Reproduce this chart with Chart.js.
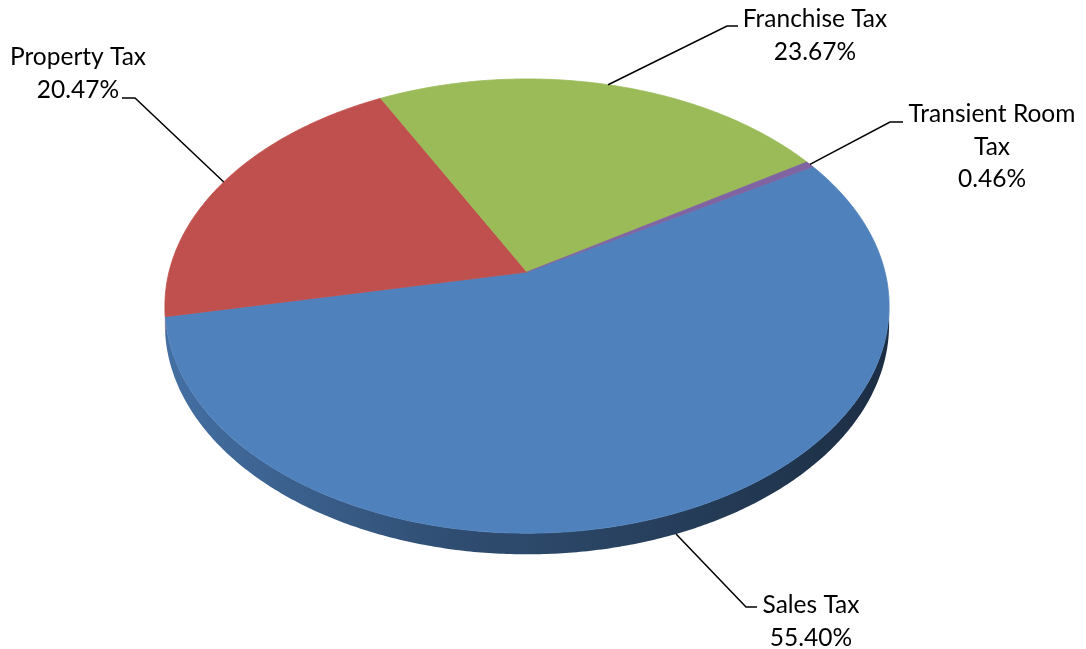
<!DOCTYPE html>
<html>
<head>
<meta charset="utf-8">
<script src="https://cdn.jsdelivr.net/npm/chart.js@4/dist/chart.umd.min.js"></script>
<style>
  html, body { margin: 0; padding: 0; background: #fff; }
  #wrap { width: 1086px; height: 649px; }
</style>
</head>
<body>
<div id="wrap"><canvas id="tax-chart" width="1086" height="649"></canvas></div>
<script>
// ─── Data ───
const categories = ['Sales Tax', 'Property Tax', 'Franchise Tax', 'Transient Room Tax'];
const shares = [55.40, 20.47, 23.67, 0.46];
const labelLines = [['Sales Tax'], ['Property Tax'], ['Franchise Tax'], ['Transient Room', 'Tax']];
const sliceColors = ['#4f81bd', '#c0504d', '#9bbb59', '#8064a2'];

// ─── Tilted pie geometry ───
const RX = 358;        // horizontal radius of the top face
const RY = 222;        // vertical radius of the top face
const TILT = 0.15;     // perspective: near edge drawn larger
const DEPTH = 18;      // thickness of the pie wall

function project(arc, t, drop) {
  const u = Math.cos(t), v = Math.sin(t);
  const w = 1 - TILT * v;
  return [arc.x + RX * u / w, arc.y + RY * v / w + (drop ? DEPTH / w : 0)];
}

function shade(hex, f) {
  const n = parseInt(hex.slice(1), 16);
  const r = Math.round(((n >> 16) & 255) * f);
  const g = Math.round(((n >> 8) & 255) * f);
  const b = Math.round((n & 255) * f);
  return `rgb(${r},${g},${b})`;
}

// draws the slices as a tilted disc with a visible front wall
const pie3d = {
  id: 'pie3d',
  beforeDatasetsDraw(chart) {
    const ctx = chart.ctx;
    const arcs = chart.getDatasetMeta(0).data;
    const colors = chart.data.datasets[0].backgroundColor;
    const front0 = Math.asin(TILT);
    const front1 = Math.PI - front0;
    const step = Math.PI / 360;

    // ─── Wall ───
    arcs.forEach((arc, i) => {
      [0, 2 * Math.PI, -2 * Math.PI].forEach(k => {
        const a0 = Math.max(arc.startAngle + k, front0);
        const a1 = Math.min(arc.endAngle + k, front1);
        if (a1 <= a0) return;
        ctx.save();
        ctx.beginPath();
        for (let t = a0; t < a1; t += step) ctx.lineTo(...project(arc, t, false));
        ctx.lineTo(...project(arc, a1, false));
        for (let t = a1; t > a0; t -= step) ctx.lineTo(...project(arc, t, true));
        ctx.lineTo(...project(arc, a0, true));
        ctx.closePath();
        const left = arc.x - RX, right = arc.x + RX;
        const grad = ctx.createLinearGradient(left, 0, right, 0);
        grad.addColorStop(0, shade(colors[i], 0.86));
        grad.addColorStop(0.4, shade(colors[i], 0.6));
        grad.addColorStop(0.65, shade(colors[i], 0.5));
        grad.addColorStop(1, shade(colors[i], 0.36));
        ctx.fillStyle = grad;
        ctx.fill();
        ctx.restore();
      });
    });

    // ─── Top face ───
    arcs.forEach((arc, i) => {
      ctx.save();
      ctx.beginPath();
      ctx.moveTo(arc.x, arc.y);
      for (let t = arc.startAngle; t < arc.endAngle; t += step) ctx.lineTo(...project(arc, t, false));
      ctx.lineTo(...project(arc, arc.endAngle, false));
      ctx.closePath();
      ctx.fillStyle = colors[i];
      ctx.strokeStyle = colors[i];
      ctx.lineWidth = 0.8;
      ctx.fill();
      ctx.stroke();
      ctx.restore();
    });
    return false;
  },
};

// leader lines + category / percent labels
const leaderLabels = {
  id: 'leaderLabels',
  afterDraw(chart, args, opts) {
    const ctx = chart.ctx;
    const arcs = chart.getDatasetMeta(0).data;
    const front0 = Math.asin(TILT);
    ctx.save();
    ctx.font = `${opts.fontSize}px Lato, "Open Sans", sans-serif`;
    ctx.fillStyle = '#000';
    ctx.strokeStyle = '#000';
    ctx.lineWidth = 1.5;
    ctx.textAlign = 'center';
    ctx.textBaseline = 'alphabetic';
    arcs.forEach((arc, i) => {
      const place = opts.places[i];
      const mid = (arc.startAngle + arc.endAngle) / 2;
      const inFront = Math.sin(mid) > TILT && mid > front0;
      const [ax, ay] = project(arc, mid, inFront);
      ctx.beginPath();
      ctx.moveTo(ax, ay);
      ctx.lineTo(place.elbow[0], place.elbow[1]);
      ctx.lineTo(place.end, place.elbow[1]);
      ctx.stroke();
      const lines = [...labelLines[i], shares[i].toFixed(2) + '%'];
      lines.forEach((txt, j) => ctx.fillText(txt, place.x, place.y + j * opts.lineHeight));
    });
    ctx.restore();
  },
};

new Chart(document.getElementById('tax-chart'), {
  type: 'pie',
  data: {
    labels: categories,
    datasets: [{
      data: shares,
      backgroundColor: sliceColors,
      borderWidth: 0,
    }],
  },
  options: {
    responsive: false,
    animation: false,
    events: [],
    rotation: 59.3,
    layout: { padding: { left: 0, right: 32, top: 0, bottom: 105 } },
    plugins: {
      legend: { display: false },
      tooltip: { enabled: false },
      leaderLabels: {
        fontSize: 24.5,
        lineHeight: 32.5,
        places: [
          { x: 811, y: 613, elbow: [746, 607], end: 757 },
          { x: 78, y: 65, elbow: [135, 98], end: 122 },
          { x: 815, y: 27, elbow: [727, 26], end: 738 },
          { x: 992, y: 122, elbow: [890, 122], end: 903 },
        ],
      },
    },
  },
  plugins: [pie3d, leaderLabels],
});
</script>
</body>
</html>
